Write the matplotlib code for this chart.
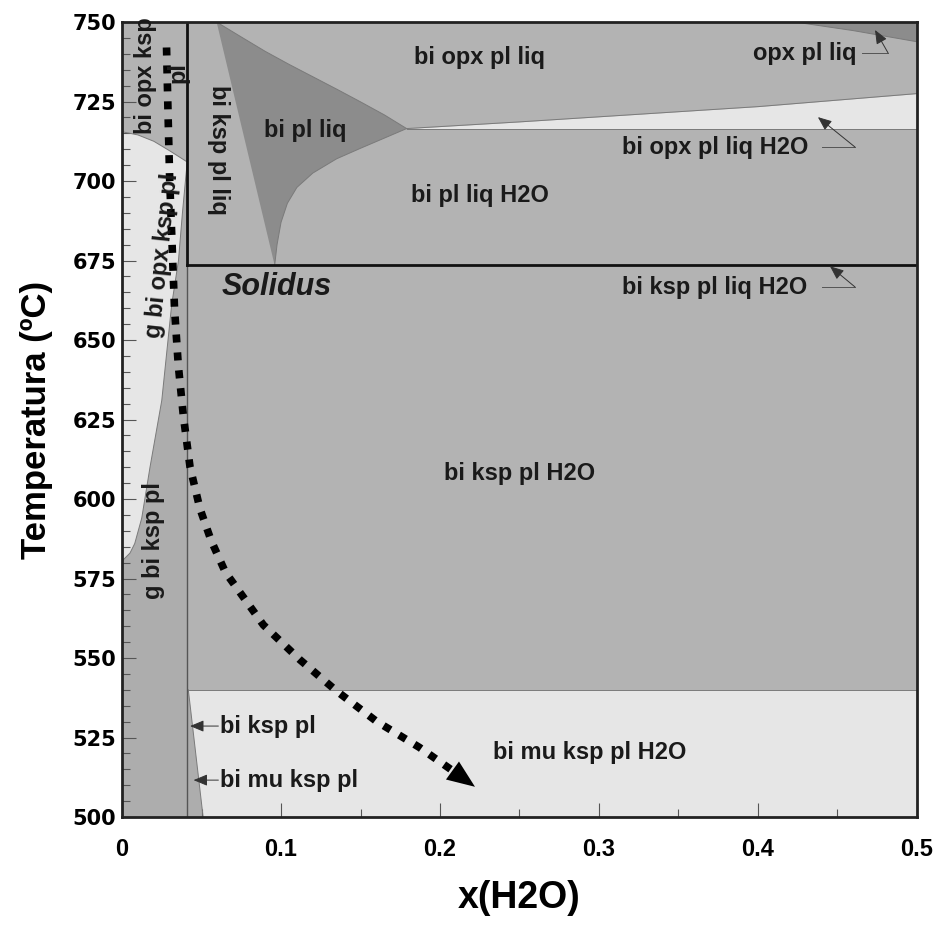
import matplotlib
matplotlib.use("Agg")
import matplotlib.pyplot as plt
from matplotlib.ticker import MultipleLocator

plt.rcParams["font.family"] = ["Liberation Sans", "DejaVu Sans"]

# colores de los campos
light = "#e6e6e6"
mid = "#b3b3b3"
strip = "#adadad"
dark = "#8c8c8c"
edge = "#7a7a7a"

# limites principales
x_wall = 0.041
t_solidus = 673.5
t_mu = 540
t_h2o = 716.5

# g bi opx ksp pl (campo claro a la izquierda)
gopx_top_x = [0, 0.01, 0.02, 0.03, 0.041]
gopx_top_t = [715.5, 714.5, 712.5, 709.5, 706]
gopx_right_x = [0.041, 0.038, 0.0355, 0.0312, 0.025, 0.0176, 0.0124, 0.008, 0.005, 0.001, 0]
gopx_right_t = [706, 690, 675, 661, 631, 610, 594, 586, 583, 581, 580]

# bi pl liq (triangulo oscuro)
tri_top_x = [0.0595, 0.075, 0.09, 0.105, 0.12, 0.135, 0.15, 0.165, 0.179]
tri_top_t = [750, 745.3, 740.8, 736.7, 732.8, 728.9, 724.9, 720.8, 716.5]
tri_bot_x = [0.096, 0.0975, 0.1, 0.104, 0.11, 0.12, 0.135, 0.15, 0.165, 0.179]
tri_bot_t = [673.5, 680, 687, 693, 698, 702.5, 707, 710.3, 713.5, 716.5]

# entrada de opx (bi opx pl liq H2O)
opx_x = [0.179, 0.25, 0.3, 0.4, 0.5]
opx_t = [716.5, 718.6, 720.2, 723.4, 727.5]

# opx pl liq
oplq_x = [0.4233, 0.46, 0.5, 0.5]
oplq_t = [750, 747.3, 743.8, 750]

# bi mu ksp pl (cuna)
mu_x = [0.041, 0.0417, 0.051, 0.041]
mu_t = [540, 540, 500, 500]

# trayectoria de enfriamiento
path_x = [0.028, 0.029, 0.030, 0.0315, 0.033, 0.0354, 0.0386, 0.0428, 0.049,
          0.056, 0.065, 0.0889, 0.112, 0.135, 0.160, 0.187, 0.209]
path_t = [742, 720, 700, 680, 660, 642, 626, 610, 597,
          587, 577, 560.4, 549.4, 539.6, 530.1, 521.9, 514.2]
arrow_tip = (0.222, 509.5)

# etiquetas: texto, x, T, rotacion, tamano
labels = [
    ("bi opx pl liq", 0.225, 739, 0, 17),
    ("opx pl liq", 0.4296, 740, 0, 17),
    ("bi opx pl liq H2O", 0.373, 710.5, 0, 17),
    ("bi ksp pl liq H2O", 0.373, 666.5, 0, 17),
    ("bi pl liq", 0.115, 716, 0, 17),
    ("bi pl liq H2O", 0.225, 695.6, 0, 17),
    ("bi ksp pl liq", 0.0604, 709.7, -90, 17),
    ("bi opx ksp", 0.0145, 733, 90, 17),
    ("pl", 0.035, 734, 90, 17),
    ("g bi opx ksp pl", 0.025, 676.7, 84, 17),
    ("g bi ksp pl", 0.0195, 587, 90, 17),
    ("bi ksp pl H2O", 0.25, 608, 0, 17),
    ("bi mu ksp pl H2O", 0.294, 520.4, 0, 17),
]
left_labels = [
    ("bi ksp pl", 0.0616, 528.6, 0.0428),
    ("bi mu ksp pl", 0.0616, 511.6, 0.045),
]
# flechas con quiebre: fin del texto, fin horizontal, T, punta
bent_leaders = [
    (0.4654, 0.4818, 740.3, (0.4736, 747.5)),
    (0.4403, 0.461, 710.7, (0.4377, 720.1)),
    (0.4403, 0.461, 666.7, (0.4453, 673.2)),
]

xticks = [0, 0.1, 0.2, 0.3, 0.4, 0.5]
xtick_labels = ["0", "0.1", "0.2", "0.3", "0.4", "0.5"]
yticks = [500, 525, 550, 575, 600, 625, 650, 675, 700, 725, 750]

fig = plt.figure(figsize=(9.43, 9.30), dpi=100)
ax = fig.add_axes([0.1294, 0.1215, 0.8430, 0.8548])
ax.set_xlim(0, 0.5)
ax.set_ylim(500, 750)

# campos
ax.fill_between([0, x_wall], 500, 750, color=strip, lw=0)
ax.fill_between(gopx_top_x, gopx_top_t, 750, color=mid, lw=0)
ax.fill(gopx_top_x + gopx_right_x[1:], gopx_top_t + gopx_right_t[1:], color=light, lw=0)
ax.fill_between([x_wall, 0.5], t_mu, t_solidus, color=mid, lw=0)
ax.fill_between([x_wall, 0.5], 500, t_mu, color=light, lw=0)
ax.fill(mu_x, mu_t, color=strip, lw=0)
ax.fill_between([x_wall, 0.5], t_solidus, 750, color=mid, lw=0)
ax.fill(tri_top_x + tri_bot_x[::-1], tri_top_t + tri_bot_t[::-1], color=dark, lw=0)
ax.fill_between(opx_x, t_h2o, opx_t, color=light, lw=0)
ax.fill(oplq_x, oplq_t, color=dark, lw=0)

# lineas de limite finas
ax.plot(gopx_top_x, gopx_top_t, color=edge, lw=0.7)
ax.plot(gopx_right_x, gopx_right_t, color=edge, lw=0.7)
ax.plot(tri_top_x, tri_top_t, color=edge, lw=0.7)
ax.plot(tri_bot_x, tri_bot_t, color=edge, lw=0.7)
ax.plot(opx_x, opx_t, color=edge, lw=0.7)
ax.plot([0.179, 0.5], [t_h2o, t_h2o], color=edge, lw=0.7)
ax.plot(oplq_x[:3], oplq_t[:3], color=edge, lw=0.7)
ax.plot([x_wall, 0.5], [t_mu, t_mu], color=edge, lw=0.7)
ax.plot(mu_x[1:3], mu_t[1:3], color=edge, lw=0.7)
ax.plot([x_wall, x_wall], [500, t_solidus], color="#555555", lw=1.0)

# solidus y recuadro
ax.plot([x_wall, 0.5], [t_solidus, t_solidus], color="#111111", lw=2.0)
ax.plot([x_wall, x_wall], [t_solidus, 750], color="#111111", lw=2.0)

# trayectoria punteada
ax.plot(path_x, path_t, color="black", lw=5.5, dashes=(1.05, 1.3),
        dash_capstyle="butt", solid_capstyle="butt")
ax.annotate("", xy=arrow_tip, xytext=(path_x[-1], path_t[-1]),
            arrowprops=dict(arrowstyle="-|>,head_length=1.0,head_width=0.4",
                            color="black", lw=0, mutation_scale=20,
                            shrinkA=0, shrinkB=0))

# etiquetas
for text, x, t, rot, size in labels:
    ax.text(x, t, text, ha="center", va="center", rotation=rot,
            fontsize=size, fontweight="bold", color="#1a1a1a")
ax.text(0.0975, 666.7, "Solidus", ha="center", va="center", fontsize=22,
        fontweight="bold", fontstyle="italic", color="#1a1a1a")

for text, x, t, tip_x in left_labels:
    ax.text(x, t, text, ha="left", va="center", fontsize=17,
            fontweight="bold", color="#1a1a1a")
    ax.annotate("", xy=(tip_x, t), xytext=(x - 0.001, t),
                arrowprops=dict(arrowstyle="-|>,head_length=0.6,head_width=0.25",
                                color="#333333", lw=0.7, mutation_scale=14,
                                shrinkA=0, shrinkB=0))

for x0, x1, t, tip in bent_leaders:
    ax.plot([x0, x1], [t, t], color="#555555", lw=0.7)
    ax.annotate("", xy=tip, xytext=(x1, t),
                arrowprops=dict(arrowstyle="-|>,head_length=0.6,head_width=0.25",
                                color="#333333", lw=0.7, mutation_scale=14,
                                shrinkA=0, shrinkB=0))

# ejes
ax.set_xticks(xticks)
ax.set_xticklabels(xtick_labels)
ax.set_yticks(yticks)
ax.xaxis.set_minor_locator(MultipleLocator(0.05))
ax.yaxis.set_minor_locator(MultipleLocator(5))
ax.tick_params(which="both", direction="in", top=False, right=False,
               color="#555555", width=0.8)
ax.tick_params(which="major", length=10)
ax.tick_params(which="minor", length=6)
ax.tick_params(axis="x", which="major", pad=15, labelsize=17)
ax.tick_params(axis="y", which="major", pad=4, labelsize=15)
for lab in ax.get_xticklabels():
    lab.set_fontweight("bold")
for lab in ax.get_yticklabels():
    lab.set_fontweight("bold")
    lab.set_family("DejaVu Sans")
for sp in ax.spines.values():
    sp.set_linewidth(2)
    sp.set_color("#222222")

ax.set_xlabel("x(H2O)", fontsize=27, fontweight="bold", labelpad=14)
ax.set_ylabel("Temperatura (ºC)", fontsize=25, fontweight="bold", labelpad=14)

fig.savefig("out.png", dpi=100)
